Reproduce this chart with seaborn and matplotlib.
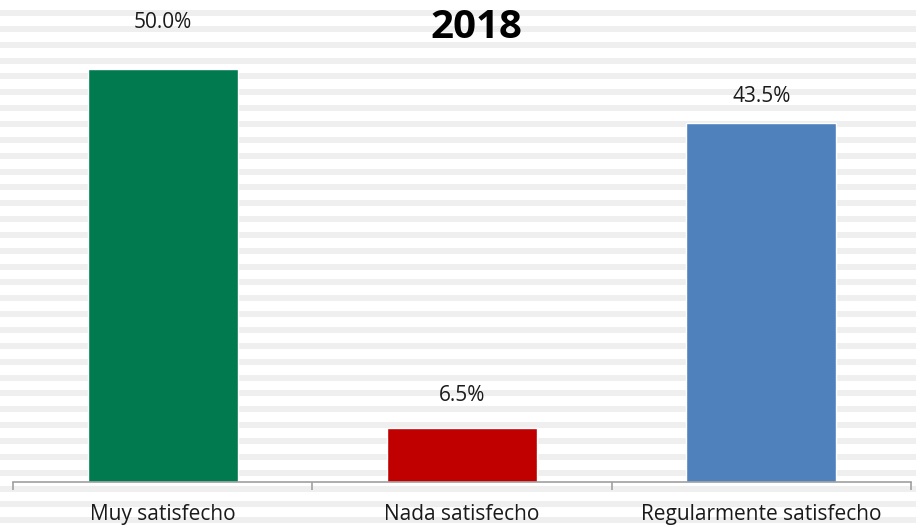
import matplotlib
matplotlib.use("Agg")
import matplotlib.pyplot as plt
import seaborn as sns
import pandas as pd
import numpy as np

categories = ["Muy satisfecho", "Nada satisfecho", "Regularmente satisfecho"]
values = [50.0, 6.5, 43.5]
colors = ["#007A4E", "#C00000", "#4F81BD"]
label_pad = [26, 16, 11]  # points above bar top

df = pd.DataFrame({"cat": categories, "pct": values})

sns.set_style("white")
plt.rcParams["font.family"] = ["Open Sans", "DejaVu Sans"]

fig = plt.figure(figsize=(9.16, 5.27), dpi=100)

# striped background behind everything
bg = fig.add_axes([0, 0, 1, 1], zorder=-1)
bg.set_xlim(0, 916)
bg.set_ylim(527, 0)
bg.axis("off")
for y0 in np.arange(10, 527, 15.85):
    bg.axhspan(y0, y0 + 6, color="#EFEFEF", lw=0)

ax = fig.add_axes([13 / 916, 45 / 527, 898 / 916, 482 / 527])
ax.patch.set_alpha(0)
sns.barplot(data=df, x="cat", y="pct", hue="cat", palette=colors,
            width=0.5, saturation=1, legend=False, ax=ax)
ax.set_xlim(-0.5, 2.5)
ax.set_ylim(0, 58.35)

for cont, pad in zip(ax.containers, label_pad):
    ax.bar_label(cont, fmt="%.1f%%", padding=pad, fontsize=15, color="#1a1a1a")

for s in ["left", "right", "top"]:
    ax.spines[s].set_visible(False)
ax.spines["bottom"].set_color("#A0A0A0")
ax.spines["bottom"].set_linewidth(1.2)
ax.set_yticks([])
ax.set_xlabel("")
ax.set_ylabel("")
ax.set_xticks([0, 1, 2])
ax.set_xticklabels(categories, fontsize=15, color="#1a1a1a")
ax.set_xticks([-0.5, 0.5, 1.5, 2.5], minor=True)
ax.tick_params(axis="x", which="major", length=0, pad=16, bottom=True)
ax.tick_params(axis="x", which="minor", length=6, color="#A0A0A0", width=1.2,
               direction="out", bottom=True)

fig.text(476 / 916, 1 - 28 / 527, "2018", ha="center", va="center",
         fontsize=29, fontweight="bold", color="black")

fig.savefig("out.png", dpi=100)
